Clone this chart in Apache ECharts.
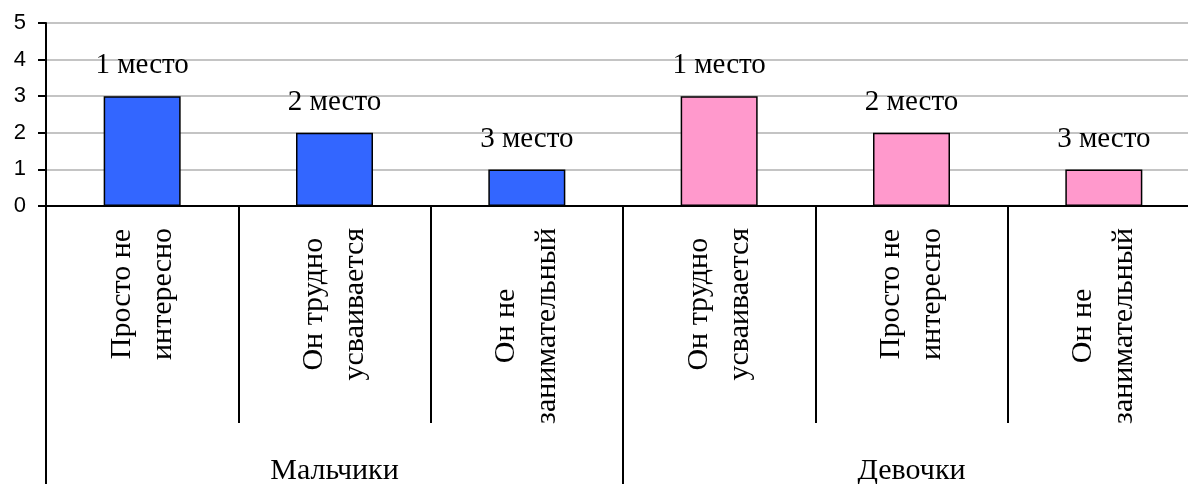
<!DOCTYPE html>
<html>
<head>
<meta charset="utf-8">
<script src="https://cdn.jsdelivr.net/npm/echarts@6/dist/echarts.min.js"></script>
<style>
html,body{margin:0;padding:0;background:#fff;}
#c{width:1188px;height:484px;}
</style>
</head>
<body>
<div id="c"></div>
<script>
const subCategories = [
  'Просто не\nинтересно',
  'Он трудно\nусваивается',
  'Он не\nзанимательный',
  'Он трудно\nусваивается',
  'Просто не\nинтересно',
  'Он не\nзанимательный'
];
const groups = ['Мальчики', 'Девочки'];
const boysValues = [3, 2, 1, null, null, null];
const girlsValues = [null, null, null, 3, 2, 1];
const placeLabels = ['1 место', '2 место', '3 место', '1 место', '2 место', '3 место'];
const yTicks = [0, 1, 2, 3, 4, 5];

const serif = 'Liberation Serif';
const sans = 'Liberation Sans';

const labelOpt = {
  show: true,
  position: 'top',
  distance: 16,
  fontFamily: serif,
  fontSize: 29,
  color: '#000',
  formatter: p => placeLabels[p.dataIndex]
};

const chart = echarts.init(document.getElementById('c'), null, {renderer: 'canvas'});
chart.setOption({
  animation: false,
  backgroundColor: '#fff',
  grid: {left: 46, top: 23, width: 1154, height: 183, containLabel: false, outerBoundsMode: 'none'},
  xAxis: [
    {
      type: 'category',
      data: subCategories,
      position: 'bottom',
      boundaryGap: true,
      axisLine: {show: true, lineStyle: {color: '#000', width: 2}},
      axisTick: {show: true, length: 217, interval: 0, lineStyle: {color: '#000', width: 2}},
      axisLabel: {
        interval: 0,
        rotate: 90,
        margin: 22,
        color: '#000',
        fontFamily: serif,
        fontSize: 30,
        lineHeight: 41,
        formatter: v => v.split('\n').map(s => '{c|' + s + '}').join('\n'),
        rich: {c: {align: 'center', fontFamily: serif, fontSize: 30, lineHeight: 41, color: '#000'}}
      },
      splitLine: {show: false}
    },
    {
      type: 'category',
      data: groups,
      position: 'bottom',
      offset: 0,
      boundaryGap: true,
      axisLine: {show: false},
      axisTick: {show: true, length: 280, interval: 0, lineStyle: {color: '#000', width: 2}},
      axisLabel: {
        interval: 0,
        margin: 250,
        color: '#000',
        fontFamily: serif,
        fontSize: 30
      },
      splitLine: {show: false}
    }
  ],
  yAxis: {
    type: 'value',
    min: yTicks[0],
    max: yTicks[yTicks.length - 1],
    interval: 1,
    axisLine: {show: true, lineStyle: {color: '#000', width: 2}},
    axisTick: {show: true, length: 8, lineStyle: {color: '#000', width: 2}},
    axisLabel: {margin: 20, color: '#000', fontFamily: sans, fontSize: 22},
    splitLine: {show: true, lineStyle: {color: '#c4c4c4', width: 2}}
  },
  series: [
    {
      name: 'Мальчики',
      type: 'bar',
      stack: 'all',
      xAxisIndex: 0,
      data: boysValues,
      barWidth: 77,
      itemStyle: {color: '#3366FF', borderColor: '#000', borderWidth: 1.5},
      label: labelOpt
    },
    {
      name: 'Девочки',
      type: 'bar',
      stack: 'all',
      xAxisIndex: 0,
      data: girlsValues,
      barWidth: 77,
      itemStyle: {color: '#FF99CC', borderColor: '#000', borderWidth: 1.5},
      label: labelOpt
    }
  ]
});
</script>
</body>
</html>
